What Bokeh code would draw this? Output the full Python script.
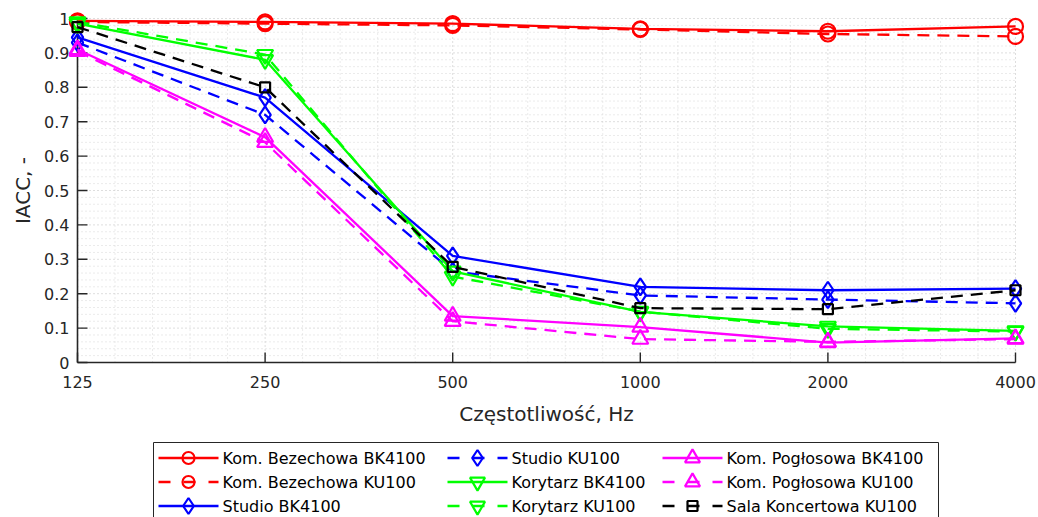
from bokeh.plotting import figure
from bokeh.models import Range1d
from bokeh.core.properties import value
from bokeh.embed import file_html
from bokeh.resources import INLINE
import numpy as np

# Frequency bands (octave centres) and IACC values per room / dummy head
freq_labels = ["125", "250", "500", "1000", "2000", "4000"]

bezechowa_bk4100 = [0.993, 0.990, 0.985, 0.970, 0.963, 0.977]
bezechowa_ku100 = [0.990, 0.985, 0.980, 0.968, 0.955, 0.948]
studio_bk4100 = [0.945, 0.770, 0.310, 0.220, 0.210, 0.215]
studio_ku100 = [0.930, 0.720, 0.265, 0.195, 0.183, 0.172]
korytarz_bk4100 = [0.985, 0.880, 0.265, 0.147, 0.105, 0.092]
korytarz_ku100 = [0.990, 0.895, 0.250, 0.148, 0.098, 0.090]
poglosowa_bk4100 = [0.910, 0.655, 0.135, 0.103, 0.058, 0.070]
poglosowa_ku100 = [0.905, 0.640, 0.120, 0.068, 0.060, 0.068]
sala_ku100 = [0.975, 0.800, 0.278, 0.158, 0.155, 0.210]

y_ticks = [0, 0.1, 0.2, 0.3, 0.4, 0.5, 0.6, 0.7, 0.8, 0.9, 1]
y_tick_labels = ["0", "0.1", "0.2", "0.3", "0.4", "0.5", "0.6", "0.7", "0.8", "0.9", "1"]
x_title = "Częstotliwość, Hz"
y_title = "IACC, -"

DASH = "12 8"
# name, values, colour, dash, marker, plot marker size, legend marker size
series = [
    ("Kom. Bezechowa BK4100", bezechowa_bk4100, "#ff0000", "solid", "circle", 15, 12),
    ("Kom. Bezechowa KU100", bezechowa_ku100, "#ff0000", DASH, "circle", 15, 12),
    ("Studio BK4100", studio_bk4100, "#0000ff", "solid", "diamond", 17, 16),
    ("Studio KU100", studio_ku100, "#0000ff", DASH, "diamond", 17, 16),
    ("Korytarz BK4100", korytarz_bk4100, "#00ff00", "solid", "inverted_triangle", 16, 15),
    ("Korytarz KU100", korytarz_ku100, "#00ff00", DASH, "inverted_triangle", 16, 15),
    ("Kom. Pogłosowa BK4100", poglosowa_bk4100, "#ff00ff", "solid", "triangle", 16, 15),
    ("Kom. Pogłosowa KU100", poglosowa_ku100, "#ff00ff", DASH, "triangle", 16, 15),
    ("Sala Koncertowa KU100", sala_ku100, "#000000", DASH, "square", 10, 10),
]

x = list(range(len(freq_labels)))
FONT = "DejaVu Sans"
AXIS_COLOR = "#262626"

# The plotting frame spans the whole canvas so markers at the box edges are
# not clipped; the axes box itself sits at pixels x 77..1015, y 18..362.
W, H = 1038, 517
AX_L, AX_R, AX_T, AX_B = 77, 1015, 18, 362
nx = len(freq_labels) - 1
kx = (AX_R - AX_L) / nx
ky = (AX_B - AX_T) / 1.0


def sx(px):
    """canvas pixel column -> data x"""
    return (px - AX_L) / kx


def sy(py):
    """canvas pixel row -> data y"""
    return (AX_B - py) / ky


p = figure(
    width=W, height=H, output_backend="svg", toolbar_location=None,
    x_range=Range1d(sx(0), sx(W)), y_range=Range1d(sy(H), sy(0)),
    x_axis_location=None, y_axis_location=None,
    min_border=0,
)
p.grid.visible = False
p.outline_line_color = None
p.background_fill_color = "white"
p.border_fill_color = "white"

# dotted major + minor grid
xg = np.arange(0, nx * 5 + 1) * 0.2
yg = np.arange(0, 51) * 0.02
xmaj = np.isclose(xg, np.round(xg))
ymaj = np.isclose(yg * 10, np.round(yg * 10))
p.segment(x0=xg[~xmaj], y0=0, x1=xg[~xmaj], y1=1, line_color="#d6d6d6", line_width=1, line_dash="1 3")
p.segment(x0=0, y0=yg[~ymaj], x1=nx, y1=yg[~ymaj], line_color="#d6d6d6", line_width=1, line_dash="1 3")
p.segment(x0=xg[xmaj], y0=0, x1=xg[xmaj], y1=1, line_color="#bdbdbd", line_width=1, line_dash="1 3")
p.segment(x0=0, y0=yg[ymaj], x1=nx, y1=yg[ymaj], line_color="#bdbdbd", line_width=1, line_dash="1 3")

# axis lines and inward ticks
tick_len = 10
p.segment(x0=[0, 0], y0=[0, 0], x1=[nx, 0], y1=[0, 1], line_color=AXIS_COLOR, line_width=1.6)
p.segment(x0=x, y0=0, x1=x, y1=tick_len / ky, line_color=AXIS_COLOR, line_width=1.4)
p.segment(x0=0, y0=y_ticks, x1=tick_len / kx, y1=y_ticks, line_color=AXIS_COLOR, line_width=1.4)

# tick labels
p.text(x=x, y=0, text=freq_labels, text_font=value(FONT), text_font_size="16px",
       text_color=AXIS_COLOR, text_align="center", text_baseline="top", y_offset=13)
p.text(x=0, y=y_ticks, text=y_tick_labels, text_font=value(FONT), text_font_size="16px",
       text_color=AXIS_COLOR, text_align="right", text_baseline="middle", x_offset=-8)

# axis titles
p.text(x=[nx / 2], y=[0], text=[x_title], text_font=value(FONT), text_font_size="20px",
       text_color=AXIS_COLOR, text_align="center", text_baseline="alphabetic", y_offset=51)
p.text(x=[0], y=[0.5], text=[y_title], text_font=value(FONT), text_font_size="20px",
       text_color=AXIS_COLOR, text_align="center", text_baseline="middle",
       angle=np.pi / 2, x_offset=-55)

# data series
for name, vals, color, dash, marker, size, _ in series:
    p.line(x, vals, line_color=color, line_width=2.3, line_dash=dash)
    p.scatter(x, vals, marker=marker, size=size, line_color=color, line_width=2.2,
              fill_color=None)

# legend: 3 rows, filled column by column, box runs past the bottom edge
LEG_BOX = (153, 938, 442, 540)          # left, right, top, bottom (px)
LEG_COLS = [158, 447, 662]              # glyph start per column (px)
LEG_ROWS = [457.5, 481.5, 505.5]        # row centre (px)
GLYPH_W, LABEL_GAP = 60, 64
p.quad(left=sx(LEG_BOX[0]), right=sx(LEG_BOX[1]), top=sy(LEG_BOX[2]), bottom=sy(LEG_BOX[3]),
       fill_color="white", line_color=AXIS_COLOR, line_width=1)
for i, (name, vals, color, dash, marker, size, leg_size) in enumerate(series):
    gx = LEG_COLS[i // 3]
    gy = LEG_ROWS[i % 3]
    legend_dash = "solid" if dash == "solid" else "12 13"
    p.line([sx(gx), sx(gx + GLYPH_W)], [sy(gy), sy(gy)], line_color=color,
           line_width=2.3, line_dash=legend_dash)
    p.scatter([sx(gx + GLYPH_W / 2)], [sy(gy)], marker=marker, size=leg_size,
              line_color=color, line_width=2.2, fill_color=None)
    p.text(x=[sx(gx + LABEL_GAP)], y=[sy(gy)], text=[name], text_font=value(FONT),
           text_font_size="16px", text_color="#000000", text_align="left",
           text_baseline="middle")

open("out.html", "w").write(file_html(p, INLINE))
